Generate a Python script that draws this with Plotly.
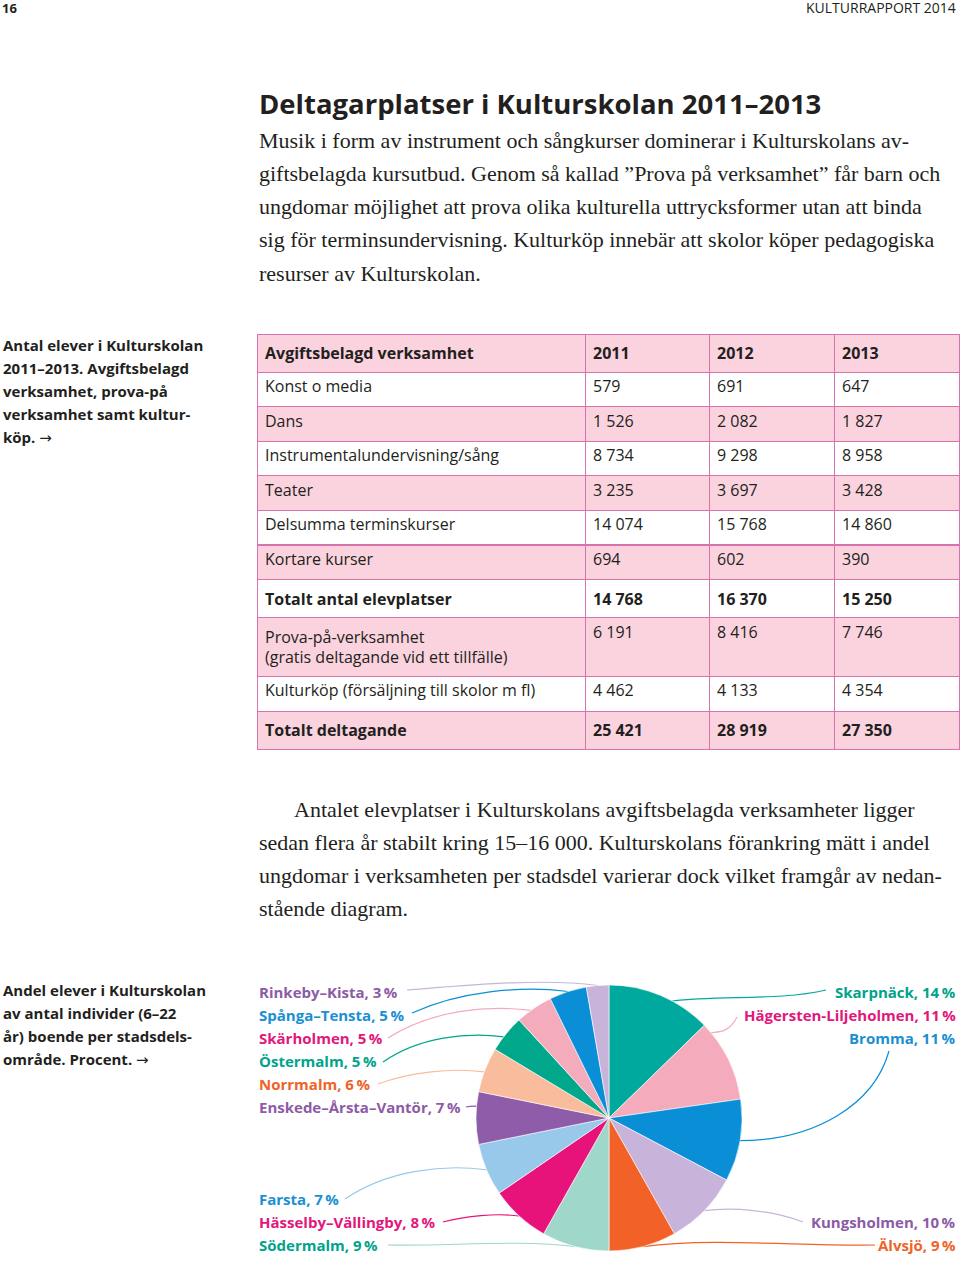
import math
import plotly.graph_objects as go

W, H = 960, 1261
SANS = "Open Sans"
SERIF = "Liberation Serif"
INK = "#231f20"

# ---------------- data ----------------
table_header = ["Avgiftsbelagd verksamhet", "2011", "2012", "2013"]
categories = ["Konst o media", "Dans", "Instrumentalundervisning/sång", "Teater",
              "Delsumma terminskurser", "Kortare kurser", "Totalt antal elevplatser",
              "Prova-på-verksamhet<br>(gratis deltagande vid ett tillfälle)",
              "Kulturköp (försäljning till skolor m fl)", "Totalt deltagande"]
v2011 = [579, 1526, 8734, 3235, 14074, 694, 14768, 6191, 4462, 25421]
v2012 = [691, 2082, 9298, 3697, 15768, 602, 16370, 8416, 4133, 28919]
v2013 = [647, 1827, 8958, 3428, 14860, 390, 15250, 7746, 4354, 27350]
bold_rows = [6, 9]

districts = ["Skarpnäck", "Hägersten-Liljeholmen", "Bromma", "Kungsholmen", "Älvsjö",
             "Södermalm", "Hässelby–Vällingby", "Farsta", "Enskede–Årsta–Vantör",
             "Norrmalm", "Östermalm", "Skärholmen", "Spånga–Tensta", "Rinkeby–Kista"]
shares = [14, 11, 11, 10, 9, 9, 8, 7, 7, 6, 5, 5, 5, 3]

slice_colors = ["#00a99d", "#f4abbb", "#0a8fd6", "#c8b4da", "#f26127", "#9fd7cb",
                "#e8137a", "#98c9eb", "#8e5ca8", "#f9bc9c", "#00a78b", "#f4abbb",
                "#0a8fd6", "#c8b4da"]
label_colors = ["#00a38b", "#e2177b", "#1a8fd2", "#8d5ba6", "#ef6328", "#00a38b",
                "#e2177b", "#1a8fd2", "#8d5ba6", "#ef6328", "#00a38b", "#e2177b",
                "#1a8fd2", "#8d5ba6"]

# label layout (pixels): x, y, anchor, leader start x, y, start direction, point within slice
label_pos = {
    "Skarpnäck": (958, 992, "right", 826, 990, "h", 0.62),
    "Hägersten-Liljeholmen": (958, 1015, "right", 737, 1017, "h", 0.12),
    "Bromma": (958, 1038, "right", 889, 1051, "v", 0.5),
    "Kungsholmen": (958, 1222, "right", 803, 1222, "h", 0.5),
    "Älvsjö": (958, 1245, "right", 875, 1245, "h", 0.5),
    "Södermalm": (257, 1245, "left", 388, 1245, "h", 0.5),
    "Hässelby–Vällingby": (257, 1222, "left", 443, 1222, "h", 0.5),
    "Farsta": (257, 1199, "left", 345, 1199, "h", 0.5),
    "Enskede–Årsta–Vantör": (257, 1107, "left", 466, 1107, "h", 0.72),
    "Norrmalm": (257, 1084, "left", 378, 1084, "h", 0.45),
    "Östermalm": (257, 1061, "left", 383, 1062, "h", 0.4),
    "Skärholmen": (257, 1038, "left", 388, 1038, "h", 0.4),
    "Spånga–Tensta": (257, 1015, "left", 412, 1013, "h", 0.5),
    "Rinkeby–Kista": (257, 992, "left", 407, 990, "h", 0.5),
}

para1 = ["Musik i form av instrument och sångkurser dominerar i Kulturskolans av-",
         "giftsbelagda kursutbud. Genom så kallad ”Prova på verksamhet” får barn och",
         "ungdomar möjlighet att prova olika kulturella uttrycksformer utan att binda",
         "sig för terminsundervisning. Kulturköp innebär att skolor köper pedagogiska",
         "resurser av Kulturskolan."]
para2 = ["Antalet elevplatser i Kulturskolans avgiftsbelagda verksamheter ligger",
         "sedan flera år stabilt kring 15–16 000. Kulturskolans förankring mätt i andel",
         "ungdomar i verksamheten per stadsdel varierar dock vilket framgår av nedan-",
         "stående diagram."]
ARROW = '<span style="font-family:DejaVu Sans;font-weight:normal">→</span>'
caption1 = ["Antal elever i Kulturskolan", "2011–2013. Avgiftsbelagd", "verksamhet, prova-på",
            "verksamhet samt kultur-", "köp. " + ARROW]
caption2 = ["Andel elever i Kulturskolan", "av antal individer (6–22", "år) boende per stadsdels-",
            "område. Procent. " + ARROW]
title = "Deltagarplatser i Kulturskolan 2011–2013"


def px(x):
    return x / W


def py(y):
    return 1 - y / H


def fmt(n):
    return f"{n:,}".replace(",", " ")


fig = go.Figure()

# ---------------- table ----------------
def cell(text, i):
    return f"<b>{text}</b>" if i in bold_rows else text

cols = [[cell(c, i) for i, c in enumerate(categories)],
        [cell(fmt(v), i) for i, v in enumerate(v2011)],
        [cell(fmt(v), i) for i, v in enumerate(v2012)],
        [cell(fmt(v), i) for i, v in enumerate(v2013)]]
PINK = "#fad3de"
LINE = "#d873ab"
row_fill = ["white" if i % 2 == 0 else PINK for i in range(len(categories))]

fig.add_trace(go.Table(
    domain=dict(x=[px(257), px(959)], y=[py(770), py(334)]),
    columnwidth=[328, 124, 125, 125],
    header=dict(values=[f"<b>{h}</b>" for h in table_header],
                fill_color=PINK, line=dict(color=LINE, width=1),
                align="left", height=35,
                font=dict(family=SANS, size=16, color=INK)),
    cells=dict(values=cols, fill_color=[row_fill] * 4,
               line=dict(color=LINE, width=1), align="left", height=34.6,
               font=dict(family=SANS, size=16, color=INK)),
))

# ---------------- pie ----------------
CX, CY, R = 609, 1118, 133
fig.add_trace(go.Pie(
    values=shares, labels=districts, sort=False, direction="clockwise", rotation=0,
    marker=dict(colors=slice_colors, line=dict(color="white", width=0.6)),
    textinfo="none", showlegend=False,
    domain=dict(x=[px(CX - R), px(CX + R)], y=[py(CY + R), py(CY - R)]),
))

annotations = []
shapes = []


def add_text(text, x, y, size, color=INK, family=SANS, anchor="left", yanchor="middle"):
    annotations.append(dict(text=text, x=px(x), y=py(y), xref="paper", yref="paper",
                            xanchor=anchor, yanchor=yanchor, showarrow=False,
                            font=dict(family=family, size=size, color=color)))


total = sum(shares)
cum = 0
for name, v, sc, lc in zip(districts, shares, slice_colors, label_colors):
    lx, ly, anc, sx, sy, sdir, frac = label_pos[name]
    ang = (cum + v * frac) / total * 2 * math.pi
    cum += v
    add_text(f"<b>{name}, {v}\u2009%</b>", lx, ly, 15, lc, anchor=anc)
    ex = CX + R * math.sin(ang)
    ey = CY - R * math.cos(ang)
    dx, dy = ex - sx, ey - sy
    if sdir == "h":
        c1x, c1y = sx + 0.3 * dx, ey
        c2x, c2y = ex - 0.3 * dx, ey - 0.04 * abs(dx)
    else:
        c1x, c1y = sx + 0.1 * dx, sy + 0.6 * dy
        c2x, c2y = ex - 0.5 * dx, ey
    path = (f"M {px(sx)},{py(sy)} C {px(c1x)},{py(c1y)} {px(c2x)},{py(c2y)} "
            f"{px(ex)},{py(ey)}")
    shapes.append(dict(type="path", path=path, xref="paper", yref="paper",
                       line=dict(color=sc, width=1.2), layer="below"))

# ---------------- page texts ----------------
add_text("<b>16</b>", 0, 8, 13)
add_text("KULTURRAPPORT 2014", 958, 8, 14, anchor="right")
add_text(f"<b>{title}</b>", 257, 103, 27.5)
for i, line in enumerate(para1):
    add_text(line, 257, 140 + i * 33.3, 22, family=SERIF)
for i, line in enumerate(para2):
    add_text(line, 292 if i == 0 else 257, 809 + i * 33.3, 22, family=SERIF)
for i, line in enumerate(caption1):
    add_text(f"<b>{line}</b>", 1, 345 + i * 23, 15)
for i, line in enumerate(caption2):
    add_text(f"<b>{line}</b>", 1, 990 + i * 23, 15)

fig.update_layout(width=W, height=H, margin=dict(l=0, r=0, t=0, b=0),
                  paper_bgcolor="white", plot_bgcolor="white",
                  annotations=annotations, shapes=shapes)
fig.write_html("out.html", config={"displayModeBar": False},
               post_script="document.body.style.margin='0';document.body.style.overflow='hidden';")
